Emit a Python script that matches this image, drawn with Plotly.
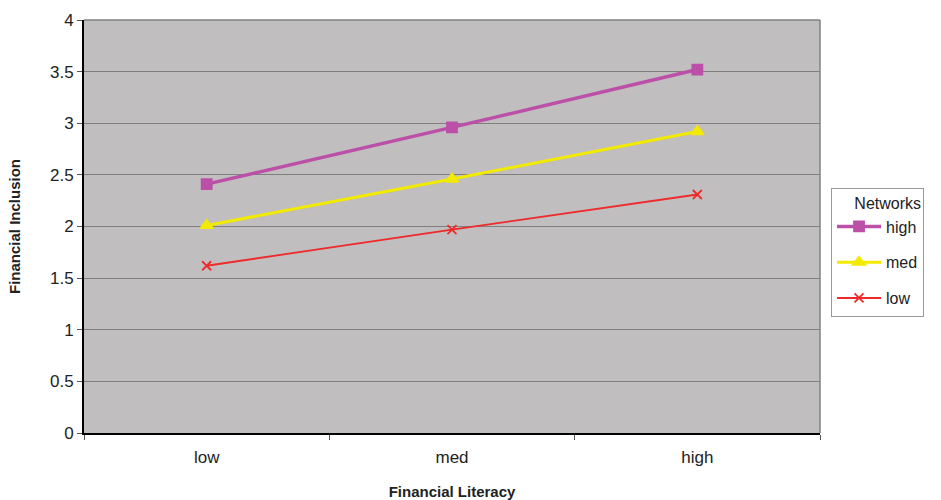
import plotly.graph_objects as go

# Financial inclusion by financial literacy level, one line per network level
literacy = ["low", "med", "high"]
inclusion_high = [2.41, 2.96, 3.52]
inclusion_med = [2.01, 2.46, 2.92]
inclusion_low = [1.62, 1.97, 2.31]

y_ticks = [0, 0.5, 1, 1.5, 2, 2.5, 3, 3.5, 4]

series = [
    ("high", inclusion_high, "#BC4FA8", 3.5, "square", 10),
    ("med", inclusion_med, "#F2EA00", 3, "triangle-up", 11),
    ("low", inclusion_low, "#EE2A2A", 1.8, "x-thin", 9),
]

fig = go.Figure()
for i, (name, vals, color, width, symbol, size) in enumerate(series):
    fig.add_trace(go.Scatter(
        x=literacy, y=vals, name=name, mode="lines+markers",
        legendgroup=name,
        line=dict(color=color, width=width),
        marker=dict(symbol=symbol, size=size, color=color,
                    line=dict(color=color, width=1.8)),
    ))

fig.update_layout(
    width=941, height=500,
    margin=dict(l=84, r=121, t=20, b=67, autoexpand=False),
    paper_bgcolor="white",
    plot_bgcolor="#C0BEBF",
    font=dict(family="Liberation Sans, Arial, sans-serif", size=16, color="#222"),
    showlegend=True,
    legend=dict(
        title=dict(text="Networks", side="top right", font=dict(size=16)),
        x=1.015, xanchor="left", y=0.594, yanchor="top",
        bordercolor="#999", borderwidth=1, bgcolor="white",
        tracegroupgap=12, itemwidth=44,
        font=dict(size=16),
    ),
    xaxis=dict(
        type="category", tickson="boundaries", range=[-0.5, 2.5],
        automargin=False,
        showgrid=False, ticks="outside", ticklen=5, tickcolor="#555",
        showline=True, linecolor="black", linewidth=2,
        mirror=False, zeroline=False,
        ticklabelstandoff=8,
        title=dict(text="<b>Financial Literacy</b>", font=dict(size=15), standoff=24),
        tickfont=dict(size=17),
    ),
    yaxis=dict(
        range=[0, 4], tickvals=y_ticks,
        ticktext=[f"{v:g}" for v in y_ticks],
        automargin=False,
        showgrid=True, gridcolor="#7F7F7F", gridwidth=1,
        ticks="outside", ticklen=5, tickcolor="#555",
        showline=True, linecolor="black", linewidth=2,
        zeroline=False,
        title=dict(text="<b>Financial Inclusion</b>", font=dict(size=15), standoff=26),
        tickfont=dict(size=17),
    ),
)

# gray frame on the top and right edges of the plot area
fig.add_shape(type="line", xref="paper", yref="paper", x0=0, x1=1, y0=1, y1=1,
              line=dict(color="#808080", width=1.5))
fig.add_shape(type="line", xref="paper", yref="paper", x0=1, x1=1, y0=0, y1=1,
              line=dict(color="#808080", width=1.5))

fig.write_html("out.html")
